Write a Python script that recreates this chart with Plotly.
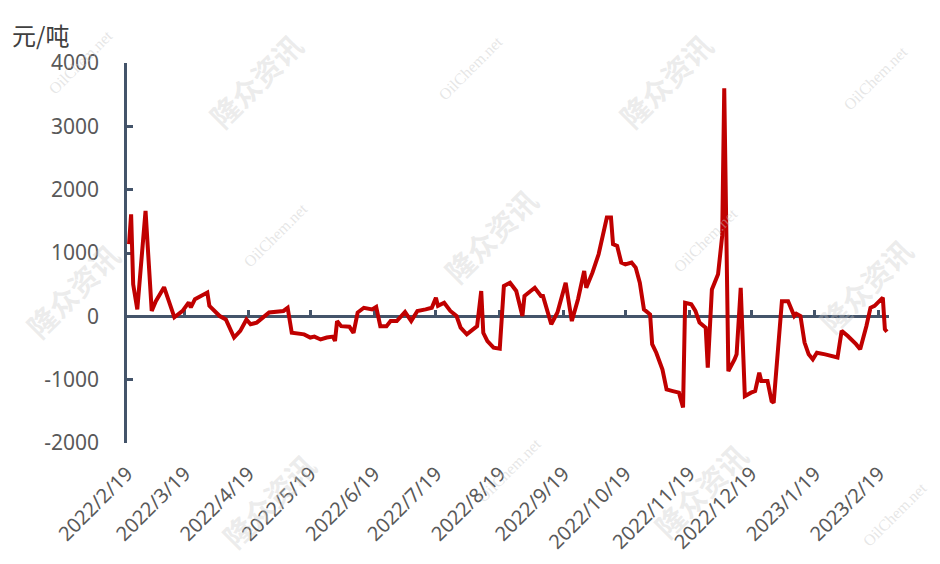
import plotly.graph_objects as go

dates = [
    "2022-02-20", "2022-02-21", "2022-02-22", "2022-02-24", "2022-02-28", "2022-03-03",
    "2022-03-05", "2022-03-09", "2022-03-14", "2022-03-18", "2022-03-21", "2022-03-22",
    "2022-03-24", "2022-03-30", "2022-03-31", "2022-04-05", "2022-04-08", "2022-04-12",
    "2022-04-15", "2022-04-18", "2022-04-20", "2022-04-23", "2022-04-29", "2022-05-06",
    "2022-05-08", "2022-05-10", "2022-05-16", "2022-05-19", "2022-05-21", "2022-05-24",
    "2022-05-27", "2022-05-30", "2022-05-31", "2022-06-01", "2022-06-03", "2022-06-07",
    "2022-06-09", "2022-06-11", "2022-06-14", "2022-06-18", "2022-06-20", "2022-06-22",
    "2022-06-25", "2022-06-27", "2022-06-30", "2022-07-04", "2022-07-07", "2022-07-10",
    "2022-07-14", "2022-07-17", "2022-07-19", "2022-07-20", "2022-07-23", "2022-07-26",
    "2022-07-29", "2022-07-31", "2022-08-03", "2022-08-05", "2022-08-08", "2022-08-10",
    "2022-08-11", "2022-08-13", "2022-08-16", "2022-08-19", "2022-08-21", "2022-08-24",
    "2022-08-27", "2022-08-30", "2022-08-31", "2022-09-03", "2022-09-05", "2022-09-08",
    "2022-09-09", "2022-09-13", "2022-09-16", "2022-09-20", "2022-09-23", "2022-09-26",
    "2022-09-29", "2022-09-30", "2022-10-03", "2022-10-06", "2022-10-08", "2022-10-10",
    "2022-10-12", "2022-10-13", "2022-10-15", "2022-10-17", "2022-10-19", "2022-10-22",
    "2022-10-24", "2022-10-26", "2022-10-28", "2022-10-31", "2022-11-01", "2022-11-03",
    "2022-11-06", "2022-11-08", "2022-11-11", "2022-11-14", "2022-11-16", "2022-11-17",
    "2022-11-20", "2022-11-22", "2022-11-24", "2022-11-27", "2022-11-28", "2022-11-30",
    "2022-12-03", "2022-12-05", "2022-12-06", "2022-12-08", "2022-12-11", "2022-12-12",
    "2022-12-14", "2022-12-16", "2022-12-19", "2022-12-21", "2022-12-23", "2022-12-24",
    "2022-12-27", "2022-12-29", "2022-12-30", "2023-01-02", "2023-01-03", "2023-01-06",
    "2023-01-09", "2023-01-10", "2023-01-12", "2023-01-14", "2023-01-16", "2023-01-18",
    "2023-01-20", "2023-01-24", "2023-01-30", "2023-02-01", "2023-02-04", "2023-02-08",
    "2023-02-10", "2023-02-13", "2023-02-15", "2023-02-17", "2023-02-21", "2023-02-22",
    "2023-02-23",
]
values = [
    1140, 1610, 505, 110, 1665, 85,
    240, 460, -15, 85, 220, 140,
    270, 375, 165, 5, -50, -335,
    -230, -50, -125, -100, 60, 85,
    135, -260, -285, -335, -320, -365,
    -335, -320, -390, -75, -155, -165,
    -260, 60, 135, 110, 150, -155,
    -155, -75, -75, 70, -75, 85,
    110, 135, 295, 165, 215, 85,
    5, -180, -285, -230, -155, 400,
    -260, -390, -495, -510, 480, 530,
    400, 5, 320, 400, 450, 320,
    320, -125, 60, 530, -75, 270,
    715, 450, 690, 980, 1295, 1560,
    1560, 1140, 1110, 850, 820, 850,
    770, 530, 110, 30, -440, -575,
    -840, -1155, -1180, -1205, -1440, 215,
    190, 85, -100, -180, -810, 425,
    665, 1270, 3600, -865, -680, -600,
    450, -1260, -1205, -1180, -890, -1020,
    -1020, -1340, -1365, -50, 240, 240,
    5, 40, 5, -415, -600, -680,
    -575, -600, -650, -230, -310, -440,
    -520, -155, 135, 165, 295, -205,
    -245,
]

tick_dates = [
    "2022-02-19", "2022-03-19", "2022-04-19", "2022-05-19", "2022-06-19", "2022-07-19",
    "2022-08-19", "2022-09-19", "2022-10-19", "2022-11-19", "2022-12-19", "2023-01-19",
    "2023-02-19",
]
tick_labels = [
    "2022/2/19", "2022/3/19", "2022/4/19", "2022/5/19", "2022/6/19", "2022/7/19",
    "2022/8/19", "2022/9/19", "2022/10/19", "2022/11/19", "2022/12/19", "2023/1/19",
    "2023/2/19",
]
y_ticks = [-2000, -1000, 0, 1000, 2000, 3000, 4000]
y_labels = ["-2000", "-1000", "0", "1000", "2000", "3000", "4000"]

x_range = ["2022-02-19", "2023-02-24"]
y_range = [-2000, 4000]
axis_color = "#44546A"
line_color = "#C00000"
y_font = dict(family="Noto Sans, DejaVu Sans, sans-serif", size=21, color="#595959")
x_font = dict(family="Noto Sans, DejaVu Sans, sans-serif", size=20, color="#595959")

# page body has an 8px margin; figure sized so that the plot area sits at
# x 127..889, y 63..443 in the 940x564 window
W, H = 924, 548
L, T = 119, 55
PW, PH = 762, 380

fig = go.Figure()
fig.add_trace(go.Scatter(
    x=dates, y=values, mode="lines",
    line=dict(color=line_color, width=4),
    xaxis="x", yaxis="y", hoverinfo="x+y",
))
fig.add_trace(go.Scatter(
    x=dates, y=values, mode="lines",
    line=dict(color="rgba(0,0,0,0)", width=0),
    xaxis="x2", yaxis="y", hoverinfo="skip", showlegend=False,
))

zero_pos = (0 - y_range[0]) / (y_range[1] - y_range[0])

fig.update_layout(
    width=W, height=H,
    margin=dict(l=L, r=W - L - PW, t=T, b=H - T - PH, autoexpand=False),
    paper_bgcolor="white", plot_bgcolor="white",
    showlegend=False,
    xaxis=dict(
        type="date", range=x_range, tickmode="array",
        tickvals=tick_dates, ticktext=tick_labels, tickangle=-45,
        showline=False, showgrid=False, zeroline=False, ticks="",
        tickfont=x_font, ticklabelstandoff=14,
    ),
    xaxis2=dict(
        type="date", range=x_range, overlaying="x", anchor="free", position=zero_pos,
        tickmode="array", tickvals=tick_dates, showticklabels=False,
        ticks="inside", ticklen=6, tickwidth=2.5, tickcolor=axis_color,
        showline=True, linecolor=axis_color, linewidth=2.5,
        showgrid=False, zeroline=False, layer="below traces",
    ),
    yaxis=dict(
        range=y_range, tickmode="array", tickvals=y_ticks, ticktext=y_labels,
        showline=True, linecolor=axis_color, linewidth=2.5,
        ticks="inside", ticklen=6, tickwidth=2.5, tickcolor=axis_color,
        showgrid=False, zeroline=False, tickfont=y_font,
        ticklabelstandoff=21, layer="below traces",
    ),
)

fig.add_annotation(
    text="元/吨", xref="paper", yref="paper", x=0, y=1,
    xshift=-(L - 2), yshift=29, xanchor="left", yanchor="middle", showarrow=False,
    font=dict(family="Noto Sans CJK SC, sans-serif", size=24, color="#404040"),
)

# faint watermarks (window pixel positions)
wm_font_cn = dict(family="Noto Sans CJK SC, sans-serif", size=29, color="rgba(200,200,200,0.35)")
wm_font_en = dict(family="Liberation Serif, serif", size=16, color="rgba(200,200,200,0.45)")
wm_cn = [(255, 80), (665, 80), (72, 290), (490, 235), (865, 285), (268, 500), (700, 490)]
wm_en = [(80, 62), (470, 68), (875, 78), (275, 235), (705, 240), (510, 470), (895, 515)]
for px, py in wm_cn:
    fig.add_annotation(text="<b>隆众资讯</b>", xref="paper", yref="paper",
                       x=(px - 127) / PW, y=(443 - py) / PH, showarrow=False,
                       xanchor="center", yanchor="middle",
                       textangle=-45, font=wm_font_cn)
for px, py in wm_en:
    fig.add_annotation(text="OilChem.net", xref="paper", yref="paper",
                       x=(px - 127) / PW, y=(443 - py) / PH, showarrow=False,
                       xanchor="center", yanchor="middle",
                       textangle=-45, font=wm_font_en)

fig.write_html("out.html")
